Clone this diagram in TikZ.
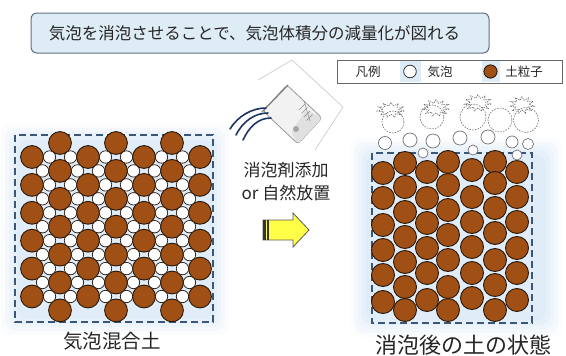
\documentclass[tikz,border=0pt]{standalone}
\usepackage{fontspec}
\setmainfont{Noto Sans CJK JP}
\usetikzlibrary{shapes.geometric}
\definecolor{soil}{RGB}{160,80,20}
\definecolor{soilline}{RGB}{40,24,12}
\definecolor{ice}{RGB}{206,226,244}
\definecolor{boxline}{RGB}{58,86,120}
\definecolor{titlefill}{RGB}{222,236,246}
\definecolor{titleline}{RGB}{96,112,130}
\definecolor{stream}{RGB}{32,52,100}
\definecolor{arrowfill}{RGB}{255,255,72}
\begin{document}
\begin{tikzpicture}[x=1pt,y=-1pt,
  soilgrain/.style={fill=soil,draw=soilline,line width=0.9pt},
  airbubble/.style={fill=white,draw=soilline,line width=0.7pt},
  risingbubble/.style={fill=white,draw=black!55,line width=0.7pt},
  burstring/.style={draw=black!55,line width=0.6pt,dash pattern=on 1.6pt off 1.2pt},
  burst/.style={star,star points=11,star point ratio=1.75,draw=black!60,
    line width=0.6pt,dash pattern=on 1.4pt off 1pt,inner sep=0pt,transform shape},
  soilbox/.style={draw=boxline,line width=1.5pt,dash pattern=on 7pt off 4pt},
  jtext/.style={inner sep=0pt,text=black!85}
]
\useasboundingbox (0,0) rectangle (566,356);

% soft icy backgrounds behind both soil samples
\foreach \d/\o in {0/0.1,4/0.14,8/0.18,12/0.22,16/0.26} {
  \fill[ice,opacity=\o,rounded corners=10] (1+\d,124+\d) rectangle (229-\d,335-\d);
  \fill[ice,opacity=\o,rounded corners=10] (350+\d,138+\d) rectangle (562-\d,337-\d);
}

% heading
\node[draw=titleline,fill=titlefill,rounded corners=6pt,line width=1pt,
  minimum width=458pt,minimum height=40pt] (titlebox) at (260,33) {};
\node[jtext,font=\fontsize{16.5}{20}\selectfont] (title) at (254.5,33)
  {気泡を消泡させることで、気泡体積分の減量化が図れる};

% legend
\draw[draw=black!60,fill=white,line width=1pt] (337,60) rectangle (562,83);
\fill[ice!70] (400,61) rectangle (421,82);
\fill[ice!70] (482,61) rectangle (500,82);
\node[jtext,font=\fontsize{12.5}{15}\selectfont] (legendhead) at (368,71.5) {凡例};
\fill[white,draw=black!80,line width=0.8pt] (410,71.5) circle (6.3);
\node[jtext,font=\fontsize{12.5}{15}\selectfont] (legendair) at (440,71.5) {気泡};
\fill[soil,draw=soilline,line width=0.9pt] (490.5,71.5) circle (6.6);
\node[jtext,font=\fontsize{12.5}{15}\selectfont] (legendsoil) at (524,71.5) {土粒子};

% --- soil mixed with air bubbles ---
\draw[soilbox] (15,135) rectangle (213,322);
\foreach \i in {0,...,6} {
  \pgfmathsetmacro\cx{32+28*\i}
  \ifodd\i
    \foreach \k in {0,...,6} {\fill[soilgrain] (\cx,143+27.9*\k) circle (11.4);}
  \else
    \foreach \k in {0,...,5} {\fill[soilgrain] (\cx,157+27.9*\k) circle (11.4);}
  \fi
}
% bubbles filling the gaps between the grains
\foreach \i in {0,2,4} \foreach \k in {0,...,5}
  {\fill[airbubble] (32+28*\i+17.5,157+27.9*\k) circle (6.2);}
\foreach \i in {2,4,6} \foreach \k in {0,...,5}
  {\fill[airbubble] (32+28*\i-17.5,157+27.9*\k) circle (6.2);}
\foreach \i in {1,3,5} \foreach \k in {1,...,5} {
  \fill[airbubble] (32+28*\i+17.5,143+27.9*\k) circle (6.2);
  \fill[airbubble] (32+28*\i-17.5,143+27.9*\k) circle (6.2);
}
\node[jtext,font=\fontsize{19.5}{22}\selectfont] (mixlabel) at (112,341) {気泡混合土};

% --- defoaming agent poured from a tilted beaker ---
\draw[black!22,line width=0.6pt] (258,80) -- (292,60) -- (343,107) -- (315,150);
\filldraw[fill=black!5,draw=black!40,line width=0.8pt,rounded corners=3pt]
  (263,111) -- (287,85) -- (322,118) -- (298,144) -- cycle;
\fill[black!12,rounded corners=3pt] (306,110) -- (322,118) -- (298,144) -- (291,132) -- cycle;
\draw[black!50,line width=1.2pt,line cap=round] (262,112) -- (288,85);
\foreach \t in {0,1,2,3}
  \draw[black!45,line width=0.7pt] (299+2.5*\t,110+3.5*\t) -- +(6,-6);
\draw[black!40,line width=0.6pt] (304,101) -- (310,121);
\fill[black!35] (296,129) circle (3);
\draw[stream,line width=1.6pt,line cap=round]
  (266,108) .. controls (252,108) and (238,116) .. (230,129);
\draw[stream,line width=1.6pt,line cap=round]
  (268,113) .. controls (255,113) and (243,121) .. (236,135);
\draw[stream,line width=1.6pt,line cap=round]
  (271,118) .. controls (258,118) and (249,127) .. (243,140);

\node[jtext,font=\fontsize{17}{23}\selectfont,align=center] (process) at (286,181.5)
  {消泡剤添加\\or 自然放置};

% process arrow
\filldraw[fill=arrowfill,draw=black!65,line width=0.8pt,line join=miter]
  (263,220) -- (293,220) -- (293,213) -- (309,230) -- (293,247) -- (293,240)
  -- (263,240) -- cycle;
\fill[black!80] (263.4,220.4) rectangle (265.6,239.6);
\fill[black!80] (267.4,220.4) rectangle (269.4,239.6);

% --- soil after the bubbles are gone ---
\draw[soilbox] (372,153) rectangle (532,323);
\foreach \x/\ys in {383/{173,198,225,250,275,302},
                    405/{163,187,212,237,262,287,310},
                    427/{172,198,223,248,273,300},
                    448/{162,185,210,235,260,287,310},
                    472/{170,197,222,247,273,298},
                    495/{162,183,208,233,260,285,310},
                    517/{172,197,222,248,273,300}} {
  \foreach \y in \ys {\fill[soilgrain] (\x,\y) circle (11.5);}
}

% bubbles rising out of the soil and bursting
\foreach \x/\y/\r in {393/122/11,432/117/12,473/117/13,500/120/12,526/120/12.5}
  {\draw[burstring] (\x,\y) circle (\r);}
\node[burst,minimum size=15pt,xscale=1.85] (burstA) at (391,110) {};
\node[burst,minimum size=17pt,xscale=1.6] (burstB) at (436,108) {};
\node[burst,minimum size=17pt,xscale=1.6] (burstC) at (478,103) {};
\node[burst,minimum size=17pt,xscale=1.45] (burstD) at (522,105) {};
\foreach \x/\y/\r in {385/143/6.5,410/140/7,433/141/7,460/138/7,488/137/7,
                      512/142/6,528/144/5.5,423/153/5,473/150/5,517/155/5}
  {\fill[risingbubble] (\x,\y) circle (\r);}

\node[jtext,font=\fontsize{22}{25}\selectfont] (afterlabel) at (463,345) {消泡後の土の状態};
\end{tikzpicture}
\end{document}
